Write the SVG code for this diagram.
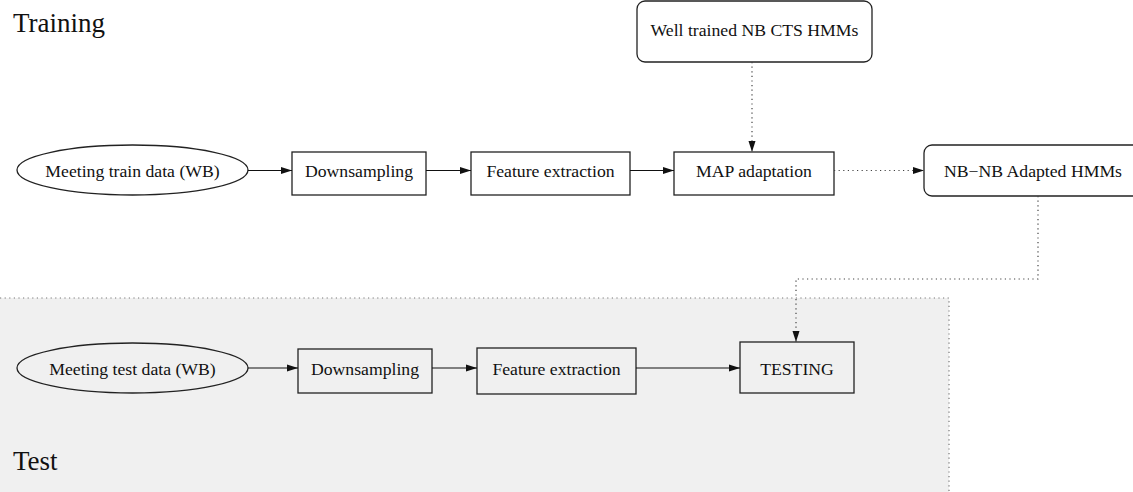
<svg xmlns="http://www.w3.org/2000/svg" width="1133" height="492" viewBox="0 0 1133 492">
<style>
.t{font-family:"Liberation Serif","Times New Roman",serif;font-size:17.7px;fill:#111;text-anchor:middle}
.title{font-family:"Liberation Serif","Times New Roman",serif;font-size:27px;fill:#111}
.n{fill:none;stroke:#222;stroke-width:1.3}
.nt{fill:#f0f0f0;stroke:#222;stroke-width:1.3}
.c{fill:none;stroke:#111;stroke-width:1.2}
.d{fill:none;stroke:#444;stroke-width:1.2;stroke-dasharray:1.2 3.4}
.b{fill:none;stroke:#777;stroke-width:1.2;stroke-dasharray:1.2 3.4}
</style>
<defs>
<marker id="ah" markerWidth="12" markerHeight="8" refX="11" refY="4" orient="auto" markerUnits="userSpaceOnUse">
<path d="M0,0.5 L11,4 L0,7.5 Z" fill="#111"/>
</marker>
</defs>
<g id="test-region">
<rect x="-2" y="298" width="951" height="200" fill="#f0f0f0"/>
<path class="b" d="M0,298 H949 V492"/>
</g>
<text class="title" x="13" y="32">Training</text>
<text class="title" x="13" y="470">Test</text>
<g id="n-train-data"><ellipse class="n" cx="132.5" cy="170" rx="115.5" ry="25"/><text class="t" x="132.5" y="176.5">Meeting train data (WB)</text></g>
<g id="n-train-down"><rect class="n" x="292" y="152" width="134" height="43"/><text class="t" x="359" y="177">Downsampling</text></g>
<g id="n-train-feat"><rect class="n" x="471" y="152" width="159" height="43"/><text class="t" x="550.5" y="177">Feature extraction</text></g>
<g id="n-map"><rect class="n" x="674" y="152" width="160" height="43"/><text class="t" x="754" y="177">MAP adaptation</text></g>
<g id="n-well"><rect class="n" x="637" y="1" width="235" height="61" rx="8"/><text class="t" x="754.5" y="36">Well trained NB CTS HMMs</text></g>
<g id="n-nbnb"><rect class="n" x="924" y="145" width="220" height="51" rx="8"/><text class="t" x="1033" y="177">NB−NB Adapted HMMs</text></g>
<g id="n-test-data"><ellipse class="nt" cx="132.5" cy="368" rx="115.5" ry="25"/><text class="t" x="132.5" y="374.5">Meeting test data (WB)</text></g>
<g id="n-test-down"><rect class="nt" x="298" y="349" width="134" height="44"/><text class="t" x="365" y="375">Downsampling</text></g>
<g id="n-test-feat"><rect class="nt" x="477" y="348" width="159" height="46"/><text class="t" x="556.5" y="375">Feature extraction</text></g>
<g id="n-testing"><rect class="nt" x="740" y="342" width="114" height="51"/><text class="t" x="797" y="375">TESTING</text></g>
<g id="connectors">
<path class="c" d="M248,170.5 H292" marker-end="url(#ah)"/>
<path class="c" d="M426,170.5 H471" marker-end="url(#ah)"/>
<path class="c" d="M630,170.5 H674" marker-end="url(#ah)"/>
<path class="d" d="M834,170.5 H924" marker-end="url(#ah)"/>
<path class="d" d="M752,62 V152" marker-end="url(#ah)"/>
<path class="d" d="M1038,196 V279 H796 V342" marker-end="url(#ah)"/>
<path class="c" d="M248,368 H298" marker-end="url(#ah)"/>
<path class="c" d="M432,368 H477" marker-end="url(#ah)"/>
<path class="c" d="M636,368 H740" marker-end="url(#ah)"/>
</g>
</svg>
